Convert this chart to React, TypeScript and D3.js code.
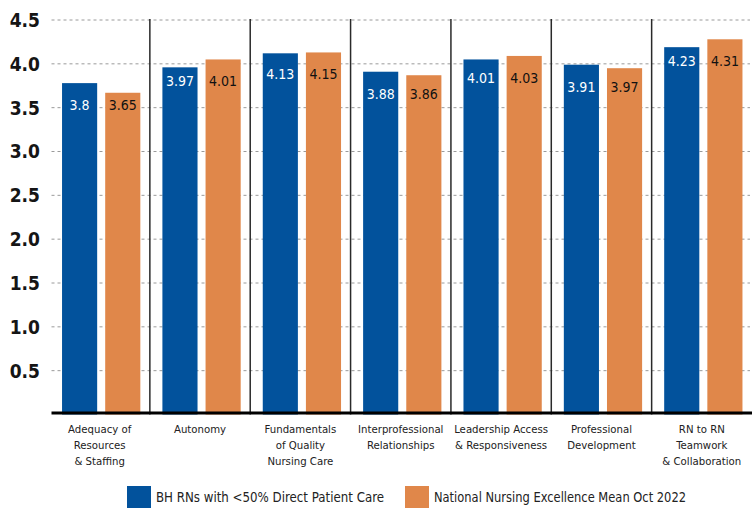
import React, { useRef, useEffect } from 'react';
import * as d3 from 'd3';

// category labels (line-broken as in the chart)
const categories: string[][] = [
  ['Adequacy of', 'Resources', '& Staffing'],
  ['Autonomy'],
  ['Fundamentals', 'of Quality', 'Nursing Care'],
  ['Interprofessional', 'Relationships'],
  ['Leadership Access', '& Responsiveness'],
  ['Professional', 'Development'],
  ['RN to RN', 'Teamwork', '& Collaboration'],
];

// bar heights as drawn
const bhValues = [3.78, 3.96, 4.12, 3.91, 4.05, 3.99, 4.19];
const nationalValues = [3.67, 4.05, 4.13, 3.87, 4.09, 3.95, 4.28];

// printed value labels
const bhLabels = ['3.8', '3.97', '4.13', '3.88', '4.01', '3.91', '4.23'];
const nationalLabels = ['3.65', '4.01', '4.15', '3.86', '4.03', '3.97', '4.31'];

const yTicks = [0.5, 1.0, 1.5, 2.0, 2.5, 3.0, 3.5, 4.0, 4.5];

const seriesNames = ['BH RNs with <50% Direct Patient Care', 'National Nursing Excellence Mean Oct 2022'];
const BLUE = '#02529c';
const ORANGE = '#e0874a';

const FONT = '"Liberation Sans Narrow", "DejaVu Sans Condensed", "Arial Narrow", sans-serif';

const App: React.FC = () => {
  const svgRef = useRef<SVGSVGElement>(null);

  useEffect(() => {
    if (!svgRef.current) return;
    const svg = d3.select(svgRef.current);
    svg.selectAll('*').remove();

    const left = 49.5, right = 752, top = 20, bottom = 414.5;

    const x = d3.scaleBand<number>()
      .domain(d3.range(categories.length))
      .range([left, right]);
    const y = d3.scaleLinear().domain([0, 4.5]).range([bottom, top]);

    const bw = x.bandwidth();
    const barW = bw * 0.35;
    const blueOff = bw * 0.125;
    const orangeOff = blueOff + barW + bw * 0.08;

    // gridlines
    svg.append('g')
      .selectAll('line')
      .data(yTicks)
      .join('line')
      .attr('x1', left + 2)
      .attr('x2', right - 2)
      .attr('y1', d => y(d))
      .attr('y2', d => y(d))
      .attr('stroke', '#9a9a9a')
      .attr('stroke-width', 1)
      .attr('stroke-dasharray', '3,3');

    // y tick labels
    svg.append('g')
      .selectAll('text')
      .data(yTicks)
      .join('text')
      .attr('x', 40)
      .attr('y', d => y(d))
      .attr('dy', '0.36em')
      .attr('text-anchor', 'end')
      .attr('font-family', FONT)
      .attr('font-size', 19)
      .attr('font-weight', 'bold')
      .attr('fill', '#151515')
      .text(d => d.toFixed(1));

    // group separators
    svg.append('g')
      .selectAll('line')
      .data(d3.range(1, categories.length))
      .join('line')
      .attr('x1', d => x(d)!)
      .attr('x2', d => x(d)!)
      .attr('y1', top - 1)
      .attr('y2', bottom)
      .attr('stroke', '#2a2a2a')
      .attr('stroke-width', 1.5);

    const groups = svg.append('g')
      .selectAll('g')
      .data(d3.range(categories.length))
      .join('g')
      .attr('transform', d => `translate(${x(d)},0)`);

    groups.append('rect')
      .attr('x', blueOff)
      .attr('width', barW)
      .attr('y', i => y(bhValues[i]))
      .attr('height', i => bottom - y(bhValues[i]))
      .attr('fill', BLUE);

    groups.append('rect')
      .attr('x', orangeOff)
      .attr('width', barW)
      .attr('y', i => y(nationalValues[i]))
      .attr('height', i => bottom - y(nationalValues[i]))
      .attr('fill', ORANGE);

    const labelY = (i: number) => y(Math.max(bhValues[i], nationalValues[i])) + 22;

    groups.append('text')
      .attr('x', blueOff + barW / 2)
      .attr('y', labelY)
      .attr('dy', '0.36em')
      .attr('text-anchor', 'middle')
      .attr('font-family', FONT)
      .attr('font-size', 14)
      .attr('fill', '#fff')
      .text(i => bhLabels[i]);

    groups.append('text')
      .attr('x', orangeOff + barW / 2)
      .attr('y', labelY)
      .attr('dy', '0.36em')
      .attr('text-anchor', 'middle')
      .attr('font-family', FONT)
      .attr('font-size', 14)
      .attr('fill', '#111')
      .text(i => nationalLabels[i]);

    // category labels
    groups.append('text')
      .attr('text-anchor', 'middle')
      .attr('font-family', FONT)
      .attr('font-size', 11.3)
      .attr('fill', '#222')
      .selectAll('tspan')
      .data(i => categories[i])
      .join('tspan')
      .attr('x', bw / 2)
      .attr('y', (_, j) => 432.5 + j * 16)
      .text(d => d);

    // bottom axis line
    svg.append('line')
      .attr('x1', left + 2)
      .attr('x2', right)
      .attr('y1', bottom - 1.5)
      .attr('y2', bottom - 1.5)
      .attr('stroke', '#000')
      .attr('stroke-width', 3);

    // legend
    const legend = [
      { name: seriesNames[0], color: BLUE, x: 127, w: 228 },
      { name: seriesNames[1], color: ORANGE, x: 405, w: 252 },
    ];
    const lg = svg.append('g')
      .selectAll('g')
      .data(legend)
      .join('g')
      .attr('transform', d => `translate(${d.x},486)`);
    lg.append('rect')
      .attr('width', 24)
      .attr('height', 22)
      .attr('fill', d => d.color);
    lg.append('text')
      .attr('x', 29)
      .attr('y', 11)
      .attr('dy', '0.36em')
      .attr('font-family', FONT)
      .attr('font-size', 14)
      .attr('fill', '#222')
      .attr('textLength', d => d.w)
      .attr('lengthAdjust', 'spacingAndGlyphs')
      .text(d => d.name);
  }, []);

  return (
    <svg
      ref={svgRef}
      width={755}
      height={508}
      style={{ position: 'absolute', left: 0, top: 0, background: '#fff' }}
    />
  );
};

export default App;
